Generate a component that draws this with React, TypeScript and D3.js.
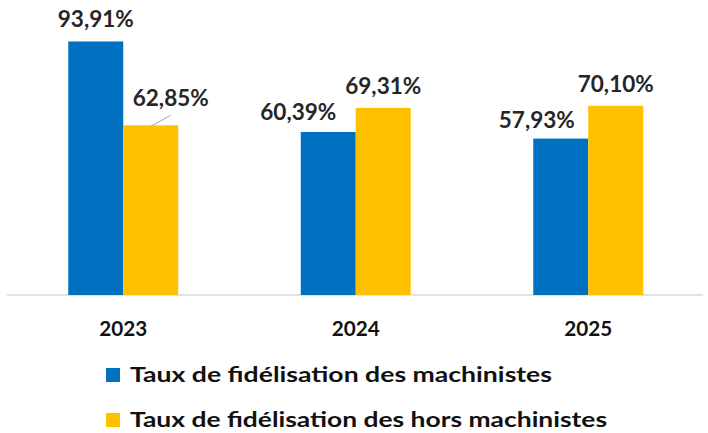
import React from "react";
import * as d3 from "d3";

const years = ["2023", "2024", "2025"];
const machinistes = [93.91, 60.39, 57.93];
const horsMachinistes = [62.85, 69.31, 70.1];
const seriesNames = [
  "Taux de fidélisation des machinistes",
  "Taux de fidélisation des hors machinistes",
];
const colors = ["#0070C0", "#FFC000"];

// label placement tweaks (layout, not data)
const labelOffsets: [number, number][][] = [
  [[0, 0], [-30, 2], [-24, 3]],
  [[20, -5], [0, 0], [0, 0]],
];
const legendWidths = [422, 477];

const W = 708;
const H = 433;
const FONT = "Lato, 'Open Sans', sans-serif";

function fmt(v: number) {
  return v.toFixed(2).replace(".", ",") + "%";
}

export default function App() {
  const x = d3
    .scaleBand<string>()
    .domain(years)
    .range([7, 704.5])
    .paddingInner(0.527)
    .paddingOuter(0.2635);
  const sub = d3
    .scaleBand<number>()
    .domain([0, 1])
    .range([0, x.bandwidth()]);
  const y = d3.scaleLinear().domain([0, 100]).range([295, 25]);
  const series = [machinistes, horsMachinistes];

  return (
    <svg
      width={W}
      height={H}
      style={{ position: "absolute", left: 0, top: 0 }}
      fontFamily={FONT}
    >
      <rect width={W} height={H} fill="#fff" />
      <line x1={7} x2={703} y1={y(0)} y2={y(0)} stroke="#d9d9d9" strokeWidth={1.5} />
      {series.map((vals, si) =>
        vals.map((v, i) => {
          const bx = (x(years[i]) as number) + (sub(si) as number);
          const bw = sub.bandwidth();
          return (
            <rect
              key={`b${si}-${i}`}
              x={bx}
              y={y(v)}
              width={bw}
              height={y(0) - y(v)}
              fill={colors[si]}
            />
          );
        })
      )}
      {series.map((vals, si) =>
        vals.map((v, i) => {
          const cx = (x(years[i]) as number) + (sub(si) as number) + sub.bandwidth() / 2;
          const [dx, dy] = labelOffsets[si][i];
          return (
            <text
              key={`l${si}-${i}`}
              x={cx + dx - 38}
              y={y(v) - 14 + dy}
              fontSize={22}
              fontWeight={700}
              fill="#262626"
              textLength={76}
              lengthAdjust="spacingAndGlyphs"
            >
              {fmt(v)}
            </text>
          );
        })
      )}
      {/* leader line for displaced 2023 label */}
      <line
        x1={(x(years[0]) as number) + (sub(1) as number) + sub.bandwidth() / 2}
        y1={y(horsMachinistes[0]) + 1}
        x2={(x(years[0]) as number) + (sub(1) as number) + sub.bandwidth() / 2 + 20}
        y2={y(horsMachinistes[0]) - 10}
        stroke="#a6a6a6"
        strokeWidth={1}
      />
      {years.map((yr) => (
        <text
          key={yr}
          x={(x(yr) as number) + x.bandwidth() / 2 - 24}
          y={336}
          fontSize={21}
          fontWeight={700}
          fill="#111"
          textLength={48}
          lengthAdjust="spacingAndGlyphs"
        >
          {yr}
        </text>
      ))}
      {seriesNames.map((n, i) => (
        <g key={n} transform={`translate(106, ${368 + i * 45})`}>
          <rect width={14} height={14} fill={colors[i]} />
          <text
            x={24}
            y={14}
            fontSize={21}
            fontWeight={700}
            fill="#111"
            textLength={legendWidths[i]}
            lengthAdjust="spacingAndGlyphs"
          >
            {n}
          </text>
        </g>
      ))}
    </svg>
  );
}
